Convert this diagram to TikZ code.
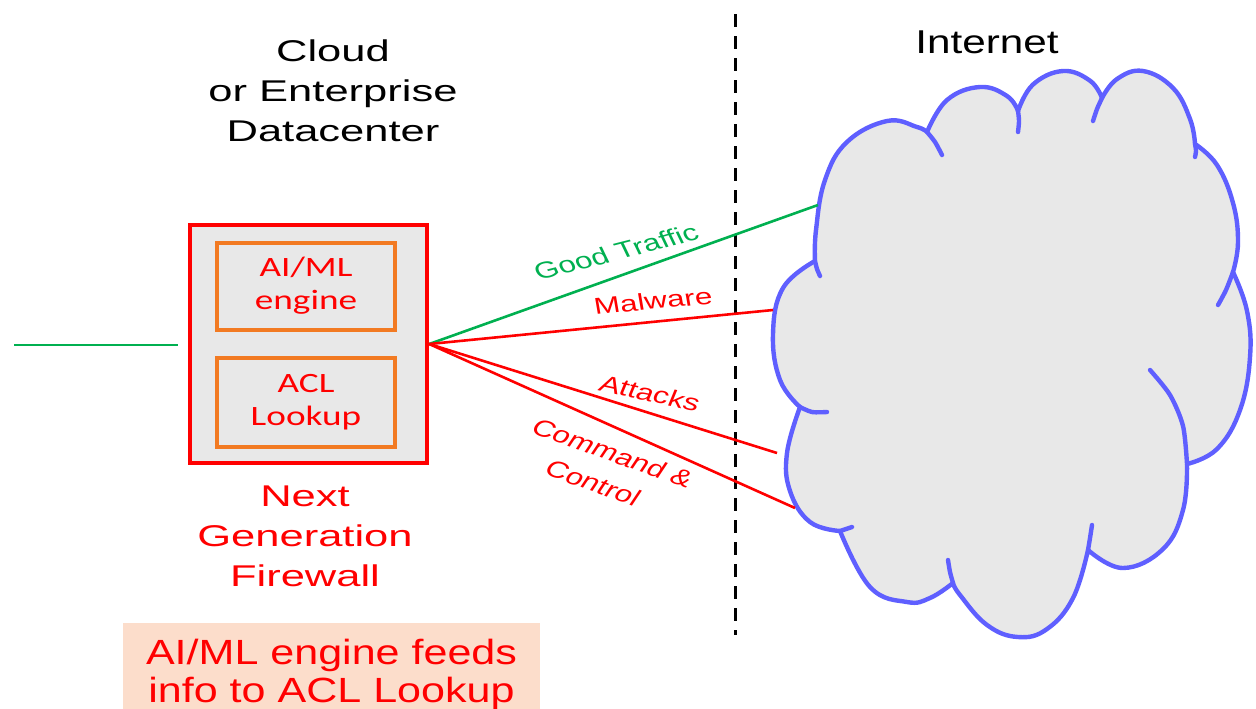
\documentclass[tikz,border=0pt]{standalone}
\usepackage{fontspec}
\setmainfont{Liberation Sans}
\newfontfamily\calib{Carlito}
\definecolor{boxgray}{HTML}{E8E8E8}
\definecolor{orangeC}{HTML}{F27A22}
\definecolor{redC}{HTML}{FF0000}
\definecolor{greenC}{HTML}{00B050}
\definecolor{blueC}{RGB}{95,95,255}
\definecolor{peachC}{HTML}{FCDDCB}
\begin{document}
\begin{tikzpicture}[x=0.5pt,y=-0.5pt,
  ttl/.style={font=\fontsize{15}{20}\selectfont, inner sep=0pt},
  inbox/.style={draw=orangeC, line width=2pt, fill=boxgray, text=redC,
     font=\calib\fontsize{14}{16.5}\selectfont, inner sep=0pt, minimum width=89pt},
  lbl/.style={font=\fontsize{11.5}{16.5}\selectfont, inner sep=0pt, align=center},
  link/.style={line width=1.3pt},
  cloudline/.style={draw=blueC, line width=2.2pt, line cap=round},
  dashline/.style={black, line width=1.5pt, dash pattern=on 6.5pt off 4.5pt}]
\path[use as bounding box, fill=white] (0,0) rectangle (1256,708);

% cloud
\filldraw[cloudline, fill=boxgray, line join=round]
  plot[smooth, tension=0.7] coordinates {(815,261) (816,230) (825,180) (847,142) (887,121) (917,127) (927,132)}
  -- plot[smooth, tension=0.7] coordinates {(927,132) (947,100) (980,87) (1007,96) (1018,111)}
  -- plot[smooth, tension=0.7] coordinates {(1018,111) (1033,84.5) (1063,71) (1090,80.7) (1102,98)}
  -- plot[smooth, tension=0.7] coordinates {(1102,98) (1117,79) (1143,71) (1173,88) (1190,119) (1195,144)}
  -- plot[smooth, tension=0.7] coordinates {(1195,144) (1217,165) (1233,203) (1238,242) (1233,272)}
  -- plot[smooth, tension=0.7] coordinates {(1233,272) (1247,311) (1250,357) (1240,410) (1217,449) (1187,464)}
  -- plot[smooth, tension=0.7] coordinates {(1187,464) (1183,510) (1163,549) (1123,568) (1088,550)}
  -- plot[smooth, tension=0.7] coordinates {(1088,550) (1073,598) (1047,629) (1018,637) (987,625) (960,595) (953,583)}
  -- plot[smooth, tension=0.7] coordinates {(953,583) (930,598) (907,602) (870,587) (840,531)}
  -- plot[smooth, tension=0.7] coordinates {(840,531) (810,522) (790,491) (787,453) (800,407)}
  -- plot[smooth, tension=0.7] coordinates {(800,407) (780,380) (773,334) (783,288) (815,261)}
  -- cycle;
\draw[cloudline] plot[smooth] coordinates {(815,261) (817,269) (820,276)};
\draw[cloudline] plot[smooth] coordinates {(927,132) (935,142) (942,155)};
\draw[cloudline] plot[smooth] coordinates {(1018,111) (1019,121) (1018,132)};
\draw[cloudline] plot[smooth] coordinates {(1102,98) (1097,109) (1093,121)};
\draw[cloudline] plot[smooth] coordinates {(1195,144) (1196,151) (1195,157)};
\draw[cloudline] plot[smooth] coordinates {(1233,272) (1226,290) (1218,305)};
\draw[cloudline] plot[smooth] coordinates {(1187,464) (1183,426) (1170,395) (1150,370)};
\draw[cloudline] plot[smooth] coordinates {(1088,550) (1090,538) (1092,525)};
\draw[cloudline] plot[smooth] coordinates {(953,583) (950,572) (948,560)};
\draw[cloudline] plot[smooth] coordinates {(840,531) (846,529) (852,527)};
\draw[cloudline] plot[smooth] coordinates {(800,407) (812,412) (827,412)};

% texts
\node[ttl] (dc) at (333,93) {\scalebox{1.45}[1]{\begin{tabular}{@{}c@{}}Cloud\\or Enterprise\\Datacenter\end{tabular}}};
\node[font=\fontsize{16.5}{20}\selectfont, inner sep=0pt] (inet) at (987,42) {\scalebox{1.28}[1]{Internet}};

% firewall
\node[draw=redC, line width=2.2pt, fill=boxgray, minimum width=118.5pt, minimum height=119pt, inner sep=0pt] (fw) at (308.5,344) {};
\node[inbox, minimum height=43.5pt] (ai) at (306,286.7) {\scalebox{1.33}[1]{\begin{tabular}{@{}c@{}}AI/ML\\engine\end{tabular}}};
\node[inbox, minimum height=44.5pt] (acl) at (306,402.8) {\scalebox{1.33}[1]{\begin{tabular}{@{}c@{}}ACL\\Lookup\end{tabular}}};
\node[ttl, text=redC] (ngfw) at (305,538.5) {\scalebox{1.45}[1]{\begin{tabular}{@{}c@{}}Next\\Generation\\Firewall\end{tabular}}};

% note
\node[fill=peachC, minimum width=208.5pt, minimum height=53pt, inner sep=0pt, text=redC,
      font=\fontsize{17.5}{19}\selectfont] (note) at (331.5,676)
  {\scalebox{1.23}[1]{\begin{tabular}{@{}c@{}}AI/ML engine feeds\\info to ACL Lookup\end{tabular}}};

% dashed boundary
\coordinate (dtop) at (735,14);
\coordinate (dbot) at (735,635);
\draw[dashline] (dtop) -- (dbot);

% connectors
\coordinate (gin) at (14,345);
\coordinate (gout) at (178,345);
\draw[link, greenC] (gin) -- (gout);
\coordinate (egood) at (818,205);
\coordinate (emal) at (773,310);
\coordinate (eatt) at (777,453);
\coordinate (ecc) at (795,508);
\draw[link, greenC] (fw.east) -- (egood);
\draw[link, redC] (fw.east) -- (emal);
\draw[link, redC] (fw.east) -- (eatt);
\draw[link, redC] (fw.east) -- (ecc);

% labels
\node[lbl, text=greenC, xscale=1.37, rotate=19.3] (lgood) at (616,252) {Good Traffic};
\node[lbl, text=redC, xscale=1.37, rotate=7.1] (lmal) at (653,301) {Malware};
\node[lbl, text=redC, xscale=1.37, rotate=-16.7] (latt) at (650,393) {Attacks};
\node[lbl, text=redC, xscale=1.37, rotate=-26] (lcc) at (603,468) {Command \&\\Control};
\end{tikzpicture}
\end{document}
